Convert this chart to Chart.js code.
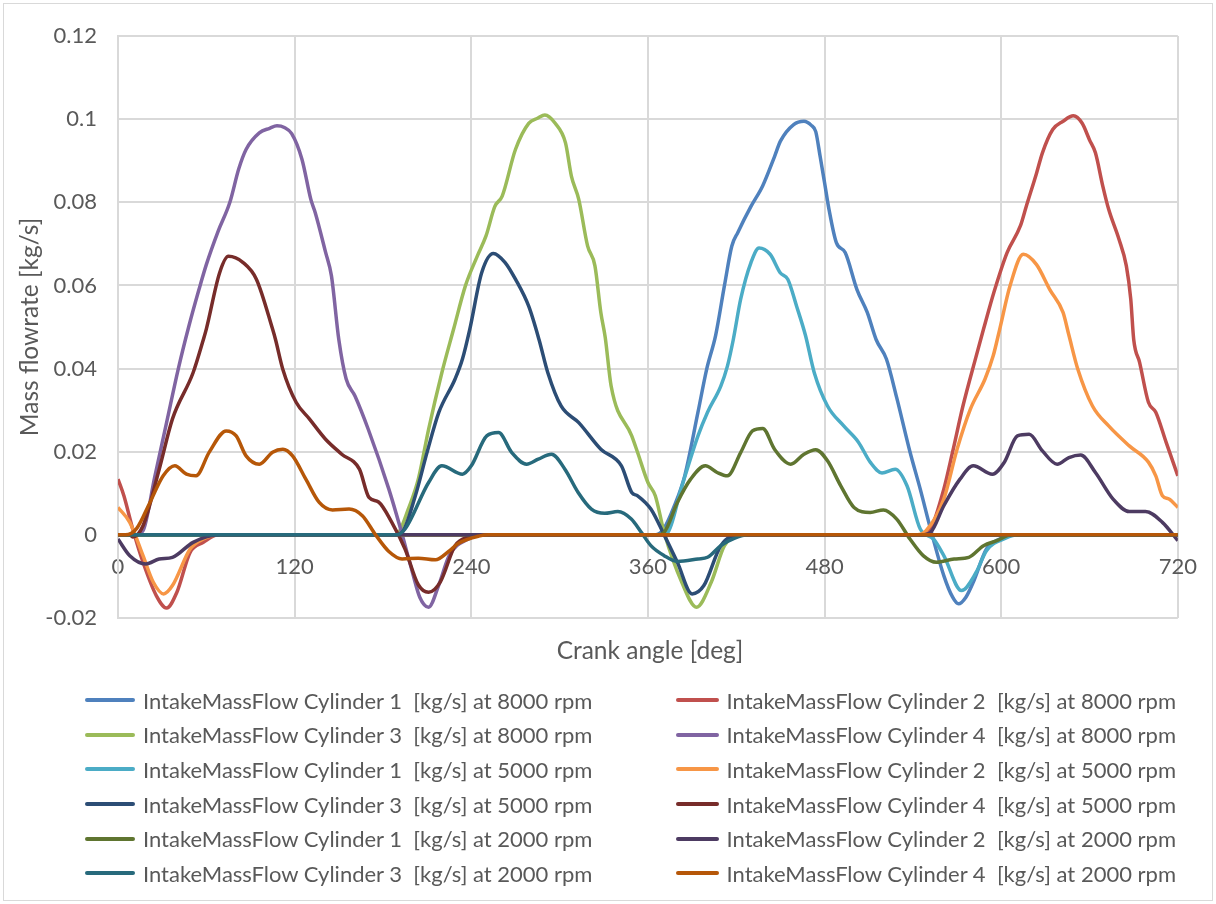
<!DOCTYPE html>
<html lang="en">
<head>
  <meta charset="UTF-8" />
  <title>Intake mass flow</title>
  <script src="https://cdn.jsdelivr.net/npm/chart.js"></script>
  <style>
    body {
      margin: 0;
      padding: 0;
      background: #fff;
      font-family: Lato, "Open Sans", sans-serif;
    }

    .page {
      position: relative;
      width: 1216px;
      height: 904px;
      overflow: hidden;
    }

    /* thin frame round the whole chart, like the Excel chart border */
    .frame {
      position: absolute;
      left: 3px; top: 3px; right: 3px; bottom: 3px;
      border: 1px solid #d9d9d9;
    }

    .chart-box {
      position: absolute;
      left: 0; top: 0;
      width: 1216px;
      height: 904px;
    }

    .x-title {
      position: absolute;
      left: 118px;
      width: 1064px;
      top: 635px;
      text-align: center;
      font-size: 24.5px;
      color: #595959;
    }

    /* two-column legend under the plot */
    .legend {
      position: absolute;
      left: 85px;
      top: 683px;
      display: grid;
      grid-template-columns: 591px 500px;
      grid-auto-rows: 34.6px;
      font-size: 22px;
      color: #595959;
    }

    .legend-item {
      display: flex;
      align-items: center;
      white-space: pre;
    }

    .legend-line {
      display: inline-block;
      width: 50px;
      height: 4px;
      margin-right: 8px;
      border-radius: 2px;
    }
  </style>
</head>
<body>
  <div class="page">
    <div class="frame"></div>
    <div class="chart-box">
      <canvas id="flowChart"></canvas>
    </div>
    <div class="x-title">Crank angle [deg]</div>
    <div class="legend" id="legend"></div>
  </div>

  <script>
    // Axis setup
    const xTicks = [0, 120, 240, 360, 480, 600, 720];
    const yTicks = [-0.02, 0, 0.02, 0.04, 0.06, 0.08, 0.1, 0.12];

    const cylinders = [1, 2, 3, 4];
    const speeds = [8000, 5000, 2000];

    // [crank angle deg, mass flow kg/s]
    const c1_8000 = [[0,0],[365,0],[371,0.0016],[378,0.007],[385,0.0142],[394,0.0295],[400,0.040],[406,0.048],[412,0.060],[417,0.0695],[421,0.0727],[430,0.079],[438,0.084],[446,0.091],[450,0.0947],[459,0.0987],[466,0.0995],[471,0.0985],[474,0.097],[477,0.091],[480,0.0847],[483,0.0783],[488,0.0703],[494,0.0679],[502,0.059],[509,0.0535],[515,0.047],[522,0.0423],[529,0.033],[538,0.020],[545,0.011],[552,0.0014],[561,-0.0098],[567,-0.015],[571,-0.0166],[576,-0.015],[581,-0.0114],[590,-0.0034],[599,-0.001],[608,0],[720,0]];
    const c2_8000 = [[0,0.0134],[4,0.0094],[10,0.0014],[17,-0.0066],[26,-0.0146],[33,-0.0176],[40,-0.0138],[49,-0.0042],[58,-0.0018],[68,0],[545,0],[552,0.0014],[561,0.011],[567,0.020],[574,0.031],[583,0.043],[588,0.0495],[595,0.0583],[604,0.0679],[613,0.0743],[617,0.079],[624,0.087],[628,0.0919],[635,0.0975],[642,0.0995],[649,0.1008],[655,0.099],[660,0.095],[664,0.0919],[669,0.0839],[673,0.0783],[680,0.0711],[685,0.0647],[688,0.0567],[690,0.047],[694,0.0415],[700,0.0319],[705,0.0295],[712,0.0223],[720,0.0142]];
    const c3_8000 = [[0,0],[188,0],[191,0.0007],[197,0.006],[204,0.0134],[211,0.0254],[220,0.039],[228,0.0495],[236,0.0599],[244,0.067],[250,0.0719],[256,0.079],[261,0.0815],[270,0.0927],[279,0.099],[285,0.1002],[290,0.101],[297,0.099],[304,0.0943],[308,0.0863],[313,0.0807],[319,0.0695],[324,0.0647],[328,0.0535],[331,0.0475],[335,0.0358],[349,0.0238],[353,0.0198],[360,0.0126],[365,0.0094],[371,0.0006],[383,-0.0114],[393,-0.0174],[403,-0.0114],[412,-0.0026],[423,0],[720,0]];
    const c4_8000 = [[0,0],[12,0],[17,0.001],[25,0.014],[33,0.027],[41,0.040],[48,0.050],[55,0.059],[60,0.065],[68,0.073],[76,0.080],[82,0.088],[87,0.0927],[96,0.0967],[103,0.0978],[108,0.0984],[113,0.098],[118,0.0965],[125,0.0903],[131,0.0807],[134,0.0775],[141,0.068],[145,0.0623],[150,0.047],[155,0.0375],[161,0.0334],[170,0.0254],[184,0.011],[192,0.0014],[200,-0.009],[205,-0.015],[211,-0.0174],[218,-0.012],[225,-0.005],[238,-0.001],[250,0],[720,0]];

    const c1_5000 = [[0,0],[368,0],[373.5,0.0006],[382.5,0.011],[394,0.0238],[400.5,0.0295],[409.5,0.0358],[414,0.0406],[418,0.047],[423,0.0567],[430,0.0655],[435.5,0.069],[443,0.0675],[450,0.063],[455,0.0615],[461,0.055],[467,0.048],[473,0.039],[482,0.031],[493,0.0262],[503,0.0223],[511,0.0175],[519,0.0149],[528,0.0158],[536,0.0118],[545,0.0014],[554,-0.001],[561,-0.005],[573,-0.0134],[583,-0.009],[590,-0.0038],[603,-0.0008],[612,0],[720,0]];
    const c2_5000 = [[0,0.0066],[8,0.003],[17,-0.005],[24,-0.0114],[31,-0.0142],[37,-0.0122],[49,-0.0034],[58,-0.001],[69,0],[543,0],[549,0.001],[561,0.0086],[570,0.0206],[579,0.0302],[589,0.0375],[594.5,0.043],[599,0.0495],[606,0.0599],[615,0.0675],[624,0.065],[633,0.059],[642,0.0535],[646,0.048],[652,0.0399],[662,0.031],[673,0.0262],[687,0.0214],[700,0.0175],[705,0.0142],[709.5,0.0094],[714,0.0086],[720,0.0066]];
    const c3_5000 = [[0,0],[188,0],[193,0.0006],[202,0.0094],[210,0.0199],[218,0.0295],[229,0.0375],[234,0.0423],[239,0.0495],[247,0.063],[255,0.0677],[263,0.0655],[270,0.0615],[279,0.055],[286,0.047],[292,0.039],[301,0.031],[313,0.027],[328,0.0206],[342,0.0166],[349,0.0102],[353,0.0094],[362,0.0062],[371,0],[380,-0.0066],[390,-0.0142],[398,-0.0122],[409.5,-0.0026],[423,0],[720,0]];
    const c4_5000 = [[0,0],[8,0],[10,-0.0005],[17,0.0022],[28,0.0158],[37,0.0279],[51,0.039],[58,0.047],[60,0.0495],[69,0.063],[75,0.067],[85,0.0655],[94,0.0615],[105,0.0495],[107,0.047],[112,0.0398],[121,0.0319],[130,0.0279],[141,0.023],[152,0.0194],[164,0.0158],[170.5,0.009],[177,0.0079],[186,0.003],[195,-0.0034],[204,-0.012],[211,-0.0138],[219,-0.0113],[229,-0.0026],[238,-0.0005],[250,0],[720,0]];

    const c1_2000 = [[0,0],[366,0],[371,0.0006],[380,0.0078],[389,0.0134],[399,0.0166],[407,0.015],[414,0.0142],[423,0.0198],[431,0.025],[438,0.0256],[446,0.0206],[457,0.017],[466,0.0194],[474,0.0205],[482,0.0178],[491,0.0118],[500,0.0066],[511,0.0054],[520,0.006],[529,0.0038],[538,-0.001],[547,-0.005],[556,-0.0066],[568,-0.0058],[578,-0.0054],[588,-0.0026],[597,-0.0014],[607,0],[720,0]];
    const c2_2000 = [[0,-0.001],[8,-0.005],[19,-0.007],[28,-0.0058],[37,-0.0054],[51,-0.0018],[69,0],[546,0],[552,0.0006],[561,0.007],[572,0.0134],[581,0.0166],[594,0.0146],[602,0.0174],[611,0.0238],[619,0.0242],[628,0.0202],[638,0.017],[646,0.0186],[654,0.0192],[664,0.015],[676,0.0086],[687,0.0056],[698,0.0056],[709.5,0.003],[720,-0.0014]];
    const c3_2000 = [[0,0],[189,0],[195,0.0014],[211,0.0126],[220,0.0166],[234,0.0146],[240,0.0166],[250.5,0.0238],[258.5,0.0246],[267.5,0.0198],[277.6,0.017],[285.5,0.0182],[294.5,0.0194],[303.6,0.0158],[312.6,0.0102],[321.6,0.0062],[330.6,0.0052],[339.6,0.0056],[348.7,0.0038],[355.5,0.0006],[362,-0.0026],[371,-0.005],[380,-0.0064],[394,-0.0058],[400.5,-0.0054],[409.5,-0.0026],[419,-0.0008],[428,0],[720,0]];
    const c4_2000 = [[0,0],[5,0],[12.6,0.0015],[21.7,0.0078],[30.7,0.0142],[38.6,0.0166],[46.5,0.0146],[53,0.0142],[62,0.0199],[73.5,0.025],[80.3,0.0238],[87,0.019],[96,0.017],[105,0.0199],[112,0.0206],[118.6,0.019],[127.6,0.0134],[136.7,0.0078],[145.7,0.006],[157,0.0062],[166,0.0046],[175,0],[184,-0.004],[193,-0.0058],[204,-0.0056],[215.6,-0.006],[224.6,-0.004],[231.4,-0.002],[245,-0.0003],[252,0],[720,0]];

    // same order as the Excel series (row-wise in the legend)
    const seriesValues = [
      c1_8000, c2_8000, c3_8000, c4_8000,
      c1_5000, c2_5000, c3_5000, c4_5000,
      c1_2000, c2_2000, c3_2000, c4_2000
    ];

    const seriesColors = [
      '#4F81BD', '#C0504D', '#9BBB59', '#8064A2',
      '#4BACC6', '#F79646', '#2C4D75', '#772C2A',
      '#5F7530', '#4D3B62', '#276A7C', '#B65708'
    ];

    const seriesLabels = [];
    speeds.forEach(s => {
      cylinders.forEach(c => {
        seriesLabels.push(`IntakeMassFlow Cylinder ${c}  [kg/s] at ${s} rpm`);
      });
    });

    const datasets = seriesValues.map((vals, i) => ({
      label: seriesLabels[i],
      data: vals.map(p => ({ x: p[0], y: p[1] })),
      borderColor: seriesColors[i],
      backgroundColor: seriesColors[i],
      borderWidth: 3.5,
      pointRadius: 0,
      cubicInterpolationMode: 'monotone',
      // Excel paints later series on top; Chart.js paints low "order" last
      order: seriesValues.length - i
    }));

    const gridColor = '#d9d9d9';
    const tickFont = { family: 'Lato, "Open Sans", sans-serif', size: 22 };

    const ctx = document.getElementById('flowChart').getContext('2d');
    const flowChart = new Chart(ctx, {
      type: 'line',
      data: { datasets },
      options: {
        responsive: true,
        maintainAspectRatio: false,
        animation: false,
        layout: {
          padding: { left: 15, top: 36, right: 34, bottom: 286 }
        },
        plugins: {
          legend: { display: false },
          tooltip: { enabled: false }
        },
        scales: {
          x: {
            type: 'linear',
            position: { y: 0 },   // labels hang under the zero line, as in Excel
            min: xTicks[0],
            max: xTicks[xTicks.length - 1],
            afterBuildTicks: (axis) => {
              axis.ticks = xTicks.map(v => ({ value: v }));
            },
            grid: { color: gridColor, lineWidth: 2, drawTicks: false },
            border: { display: false },
            ticks: {
              padding: 19,
              color: '#595959',
              font: tickFont,
              maxRotation: 0,
              autoSkip: false
            }
          },
          y: {
            type: 'linear',
            min: yTicks[0],
            max: yTicks[yTicks.length - 1],
            afterBuildTicks: (axis) => {
              axis.ticks = yTicks.map(v => ({ value: v }));
            },
            afterFit: (axis) => { axis.width = 103; },
            grid: { color: gridColor, lineWidth: 2, drawTicks: false },
            border: { color: gridColor, width: 2 },
            ticks: {
              padding: 21,
              color: '#595959',
              font: tickFont,
              callback: (v) => String(Math.round(v * 100) / 100)
            },
            title: {
              display: true,
              text: 'Mass flowrate [kg/s]',
              color: '#595959',
              font: { family: 'Lato, "Open Sans", sans-serif', size: 24.5 },
              padding: 0
            }
          }
        }
      }
    });

    // Legend in two columns, built from the same series arrays
    const legendEl = document.getElementById('legend');
    seriesLabels.forEach((label, i) => {
      const item = document.createElement('div');
      item.className = 'legend-item';
      const swatch = document.createElement('span');
      swatch.className = 'legend-line';
      swatch.style.background = seriesColors[i];
      const text = document.createElement('span');
      text.textContent = label;
      item.appendChild(swatch);
      item.appendChild(text);
      legendEl.appendChild(item);
    });
  </script>
</body>
</html>
